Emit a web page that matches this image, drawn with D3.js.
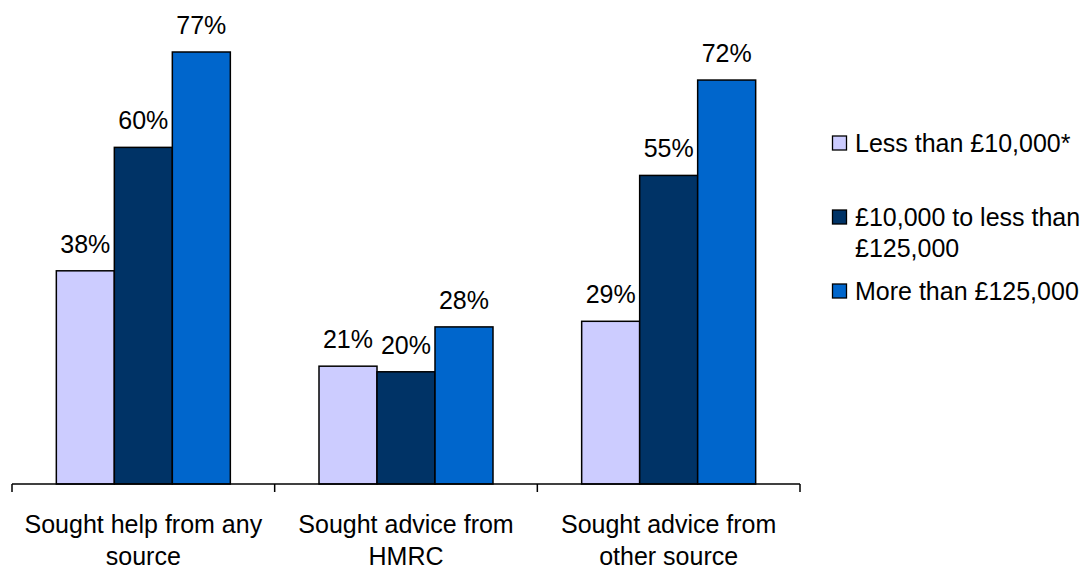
<!DOCTYPE html>
<html>
<head>
<meta charset="utf-8">
<script src="https://cdn.jsdelivr.net/npm/d3@7"></script>
<style>
  html, body { margin: 0; padding: 0; background: #fff; }
  svg { display: block; font-family: "Liberation Sans", Arial, sans-serif; }
</style>
</head>
<body>
<svg id="chart" width="1091" height="569"></svg>
<script>
// Categories (x axis), each label split over two lines
const categories = [
  ["Sought help from any", "source"],
  ["Sought advice from", "HMRC"],
  ["Sought advice from", "other source"]
];
const seriesNames = ["Less than £10,000*", "£10,000 to less than\n£125,000", "More than £125,000"];
const seriesColors = ["#CCCCFF", "#003366", "#0066CC"];

// Percentages by series, one value per category
const lessThan10k = [38, 21, 29];
const from10kTo125k = [60, 20, 55];
const moreThan125k = [77, 28, 72];
const seriesValues = [lessThan10k, from10kTo125k, moreThan125k];

const FONT = 25;
const svg = d3.select("#chart");

const plot = { left: 12, right: 800, top: 52, bottom: 484 };

const x0 = d3.scaleBand()
  .domain(d3.range(categories.length))
  .range([plot.left, plot.right])
  .paddingInner(0).paddingOuter(0);

const barWidth = 58;
const x1 = d3.scaleBand()
  .domain(d3.range(seriesValues.length))
  .range([0, barWidth * seriesValues.length])
  .padding(0);

const y = d3.scaleLinear().domain([0, 77]).range([plot.bottom, plot.top]);

const rows = [];
categories.forEach((c, ci) => {
  seriesValues.forEach((vals, si) => {
    rows.push({ ci, si, value: vals[ci] });
  });
});

const groupOffset = (x0.bandwidth() - barWidth * seriesValues.length) / 2;

const bars = svg.append("g");
bars.selectAll("rect")
  .data(rows)
  .enter().append("rect")
  .attr("x", d => x0(d.ci) + groupOffset + x1(d.si))
  .attr("y", d => y(d.value))
  .attr("width", x1.bandwidth())
  .attr("height", d => y(0) - y(d.value))
  .attr("fill", d => seriesColors[d.si])
  .attr("stroke", "#000")
  .attr("stroke-width", 1.5);

bars.selectAll("text")
  .data(rows)
  .enter().append("text")
  .attr("x", d => x0(d.ci) + groupOffset + x1(d.si) + x1.bandwidth() / 2)
  .attr("y", d => y(d.value) - 18)
  .attr("text-anchor", "middle")
  .attr("font-size", FONT)
  .attr("fill", "#000")
  .text(d => d.value + "%");

// X axis: baseline with tick marks at group boundaries
const axis = svg.append("g");
axis.append("line")
  .attr("x1", plot.left).attr("x2", plot.right)
  .attr("y1", plot.bottom).attr("y2", plot.bottom)
  .attr("stroke", "#000").attr("stroke-width", 1.5);

const tickPositions = d3.range(categories.length + 1).map(i =>
  i < categories.length ? x0(i) : x0(categories.length - 1) + x0.bandwidth());
axis.selectAll(".tick")
  .data(tickPositions)
  .enter().append("line")
  .attr("x1", d => d).attr("x2", d => d)
  .attr("y1", plot.bottom).attr("y2", plot.bottom + 8)
  .attr("stroke", "#000").attr("stroke-width", 1.5);

const catLabels = axis.selectAll(".cat")
  .data(categories)
  .enter().append("text")
  .attr("text-anchor", "middle")
  .attr("font-size", FONT)
  .attr("fill", "#000");
catLabels.each(function(lines, i) {
  const t = d3.select(this);
  lines.forEach((line, li) => {
    t.append("tspan")
      .attr("x", x0(i) + x0.bandwidth() / 2)
      .attr("y", 533 + li * 32)
      .text(line);
  });
});

// Legend
const legendY = [152, 226, 300];
const legend = svg.append("g");
seriesNames.forEach((name, i) => {
  legend.append("rect")
    .attr("x", 832.5).attr("y", legendY[i] - 16)
    .attr("width", 14).attr("height", 14)
    .attr("fill", seriesColors[i])
    .attr("stroke", "#000").attr("stroke-width", 1.3);
  const t = legend.append("text")
    .attr("font-size", FONT).attr("fill", "#000");
  name.split("\n").forEach((line, li) => {
    t.append("tspan")
      .attr("x", 855)
      .attr("y", legendY[i] + li * 31)
      .text(line);
  });
});
</script>
</body>
</html>
